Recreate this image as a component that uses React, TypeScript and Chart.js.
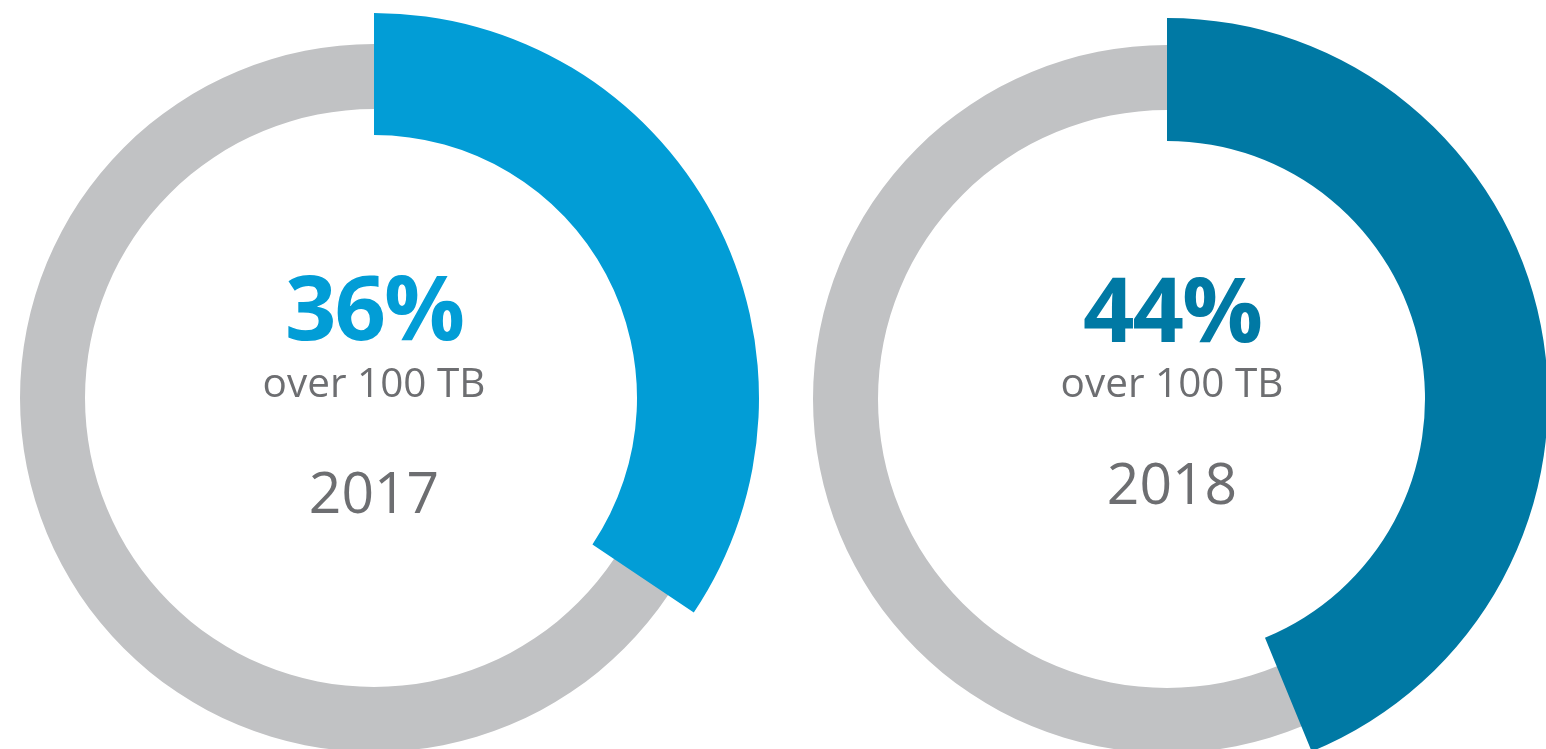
import React, { useEffect, useRef } from "react";
import { Chart, registerables } from "chart.js";

Chart.register(...registerables);

// ---- data ----
const years = ["2017", "2018"];
const percentLabels = ["36%", "44%"];
const caption = "over 100 TB";
// share of the ring covered by the coloured arc, as drawn
const highlightShare = [34.4, 43.8];
const restShare = [65.6, 56.2];

// ---- styling ----
const highlightColors = ["#029dd6", "#0079a4"];
const trackColor = "#c1c2c4";
const textGrey = "#6d6e71";

const CANVAS = 800;

type Ring = {
  cx: number;
  cy: number;
  trackR: number;
  trackr: number;
  arcR: number;
  arcr: number;
  textCx: number;
  pctTop: number;
  capTop: number;
  yearTop: number;
};

const rings: Ring[] = [
  { cx: 374, cy: 398, trackR: 354, trackr: 289, arcR: 385, arcr: 263, textCx: 374, pctTop: 260, capTop: 361.5, yearTop: 463 },
  { cx: 1167, cy: 399, trackR: 354, trackr: 289, arcR: 381, arcr: 258, textCx: 1172, pctTop: 262, capTop: 361.5, yearTop: 454 },
];

function makeChart(
  canvas: HTMLCanvasElement,
  values: number[],
  colors: string[],
  R: number,
  r: number
) {
  return new Chart(canvas, {
    type: "doughnut",
    data: {
      labels: values.map((_, i) => String(i)),
      datasets: [
        {
          data: values,
          backgroundColor: colors,
          borderWidth: 0,
          hoverOffset: 0,
        },
      ],
    },
    options: {
      animation: false,
      responsive: false,
      devicePixelRatio: 1,
      events: [],
      radius: R,
      cutout: `${(r / R) * 100}%`,
      layout: { padding: 0 },
      plugins: {
        legend: { display: false },
        tooltip: { enabled: false },
        title: { display: false },
      },
    },
  });
}

function Donut({ idx }: { idx: number }) {
  const trackRef = useRef<HTMLCanvasElement>(null);
  const arcRef = useRef<HTMLCanvasElement>(null);
  const ring = rings[idx];

  useEffect(() => {
    const charts: Chart[] = [];
    if (trackRef.current) {
      charts.push(makeChart(trackRef.current, [1], [trackColor], ring.trackR, ring.trackr));
    }
    if (arcRef.current) {
      charts.push(
        makeChart(
          arcRef.current,
          [highlightShare[idx], restShare[idx]],
          [highlightColors[idx], "rgba(0,0,0,0)"],
          ring.arcR,
          ring.arcr
        )
      );
    }
    return () => charts.forEach((c) => c.destroy());
  }, [idx]);

  const canvasStyle: React.CSSProperties = {
    position: "absolute",
    left: ring.cx - CANVAS / 2,
    top: ring.cy - CANVAS / 2,
    width: CANVAS,
    height: CANVAS,
  };

  const textBase: React.CSSProperties = {
    position: "absolute",
    left: ring.textCx - 300,
    width: 600,
    textAlign: "center",
    lineHeight: 1,
    fontFamily: "'Open Sans', sans-serif",
    whiteSpace: "nowrap",
  };

  return (
    <>
      <canvas ref={trackRef} width={CANVAS} height={CANVAS} style={canvasStyle} />
      <canvas ref={arcRef} width={CANVAS} height={CANVAS} style={canvasStyle} />
      <div
        style={{
          ...textBase,
          top: ring.pctTop,
          fontSize: 90,
          fontWeight: 700,
          color: highlightColors[idx],
          letterSpacing: -2,
        }}
      >
        {percentLabels[idx]}
      </div>
      <div style={{ ...textBase, top: ring.capTop, fontSize: 40.5, color: textGrey }}>{caption}</div>
      <div style={{ ...textBase, top: ring.yearTop, fontSize: 57, color: textGrey }}>{years[idx]}</div>
    </>
  );
}

export default function App() {
  return (
    <div
      style={{
        position: "fixed",
        left: 0,
        top: 0,
        width: 1546,
        height: 749,
        overflow: "hidden",
        background: "#ffffff",
      }}
    >
      {years.map((_, i) => (
        <Donut key={i} idx={i} />
      ))}
    </div>
  );
}
